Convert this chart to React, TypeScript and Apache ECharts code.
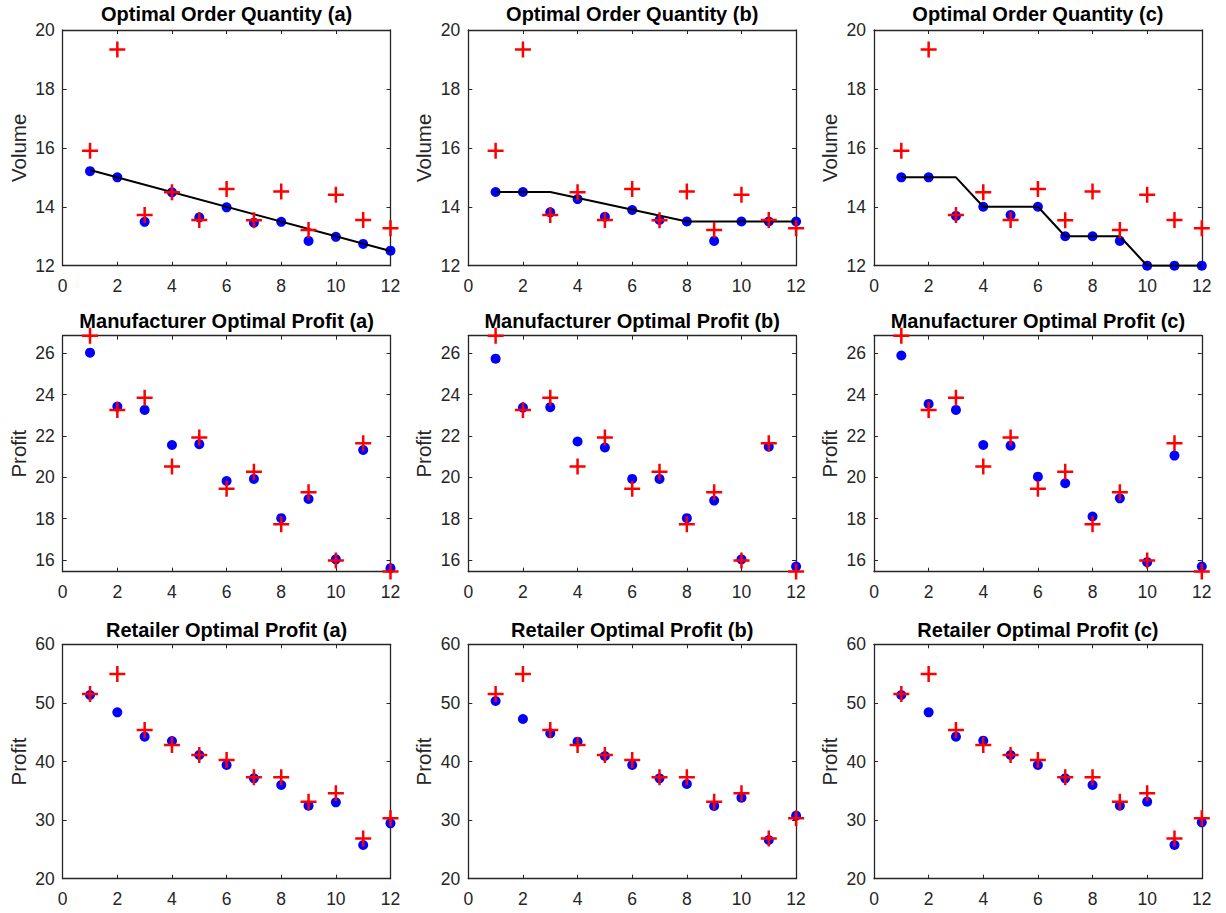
import React, { useEffect, useRef } from "react";
import * as echarts from "echarts";

// ---------- data ----------
const periods = [1, 2, 3, 4, 5, 6, 7, 8, 9, 10, 11, 12];

// Optimal order quantity
const qtyActual = [15.9, 19.34, 13.72, 14.49, 13.55, 14.6, 13.54, 14.52, 13.21, 14.41, 13.55, 13.27];
const qtyA = [15.21, 15.0, 13.49, 14.49, 13.64, 13.98, 13.46, 13.49, 12.84, 12.98, 12.74, 12.51];
const qtyB = [14.5, 14.5, 13.81, 14.26, 13.66, 13.89, 13.55, 13.5, 12.84, 13.5, 13.5, 13.5];
const qtyC = [15.0, 15.0, 13.69, 14.0, 13.72, 14.0, 13.0, 13.0, 12.84, 12.0, 12.0, 12.0];
const fitAx = [1, 12];
const fitAy = [15.25, 12.5];
const fitBx = [1, 3, 8, 12];
const fitBy = [14.5, 14.5, 13.5, 13.5];
const fitCx = [1, 3, 4, 6, 7, 9, 10, 12];
const fitCy = [15, 15, 14, 14, 13, 13, 12, 12];

// Manufacturer optimal profit
const mfgActual = [26.85, 23.26, 23.85, 20.52, 21.92, 19.44, 20.27, 17.73, 19.27, 15.97, 21.65, 15.44];
const mfgA = [26.03, 23.42, 23.26, 21.56, 21.6, 19.82, 19.92, 18.02, 18.95, 16.03, 21.32, 15.6];
const mfgB = [25.74, 23.37, 23.39, 21.73, 21.44, 19.92, 19.92, 18.02, 18.87, 16.03, 21.48, 15.68];
const mfgC = [25.89, 23.55, 23.26, 21.56, 21.53, 20.03, 19.71, 18.1, 18.98, 15.89, 21.05, 15.68];

// Retailer optimal profit
const retActual = [51.52, 54.94, 45.38, 42.82, 41.11, 40.26, 37.3, 37.3, 33.14, 34.57, 26.88, 30.3];
const retA = [51.35, 48.39, 44.24, 43.5, 41.11, 39.4, 37.13, 35.99, 32.46, 33.03, 25.75, 29.45];
const retB = [50.33, 47.25, 44.81, 43.39, 40.94, 39.4, 37.13, 36.16, 32.4, 33.83, 26.6, 30.75];
const retC = [51.35, 48.39, 44.24, 43.56, 41.11, 39.4, 37.13, 35.99, 32.46, 33.14, 25.75, 29.62];

const xTicks = [0, 2, 4, 6, 8, 10, 12];
const qtyTicks = [12, 14, 16, 18, 20];
const mfgTicks = [16, 18, 20, 22, 24, 26];
const retTicks = [20, 30, 40, 50, 60];

const colTitles = ["(a)", "(b)", "(c)"];
const rowTitles = ["Optimal Order Quantity", "Manufacturer Optimal Profit", "Retailer Optimal Profit"];
const rowYNames = ["Volume", "Profit", "Profit"];

// ---------- layout ----------
const colLeft = [62.7, 468.3, 874];
const colWidth = 327.8;
const rowTop = [30, 335.7, 644.3];
const rowHeight = [235.7, 236, 234.4];
const titleY = [13.7, 321.3, 629.7];

const AX = "#262626";
const FONT = '"Liberation Sans", Arial, Helvetica, sans-serif';
const PLUS = "path://M6.75,0 L9.25,0 L9.25,6.75 L16,6.75 L16,9.25 L9.25,9.25 L9.25,16 L6.75,16 L6.75,9.25 L0,9.25 L0,6.75 L6.75,6.75 Z";

const zip = (xs: number[], ys: number[]) => xs.map((x, i) => [x, ys[i]]);

export default function App() {
  const ref = useRef<HTMLDivElement>(null);
  useEffect(() => {
    if (!ref.current) return;
    const chart = echarts.init(ref.current, undefined, { renderer: "svg" });

    const rows = [
      { est: [qtyA, qtyB, qtyC], act: qtyActual, min: 12, max: 20, ticks: qtyTicks,
        fits: [[fitAx, fitAy], [fitBx, fitBy], [fitCx, fitCy]] },
      { est: [mfgA, mfgB, mfgC], act: mfgActual, min: 15.43, max: 26.85, ticks: mfgTicks, fits: null },
      { est: [retA, retB, retC], act: retActual, min: 20, max: 60, ticks: retTicks, fits: null },
    ];

    const grid: any[] = [];
    const xAxis: any[] = [];
    const yAxis: any[] = [];
    const series: any[] = [];
    const graphic: any[] = [];

    rows.forEach((row, r) => {
      for (let c = 0; c < 3; c++) {
        const g = grid.length;
        grid.push({ left: colLeft[c], top: rowTop[r], width: colWidth, height: rowHeight[r], containLabel: false });
        const lineStyle = { color: AX, width: 1.3 };
        xAxis.push({
          type: "value", gridIndex: g, position: "bottom", min: 0, max: 12, interval: 2,
          axisLine: { show: true, onZero: false, lineStyle },
          axisTick: { show: true, inside: true, length: 4, lineStyle: { color: AX, width: 1 } },
          axisLabel: { show: true, color: AX, fontFamily: FONT, fontSize: 17.5, margin: 11, customValues: xTicks },
          splitLine: { show: false },
        });
        xAxis.push({
          type: "value", gridIndex: g, position: "top", min: 0, max: 12, interval: 2,
          axisLine: { show: true, onZero: false, lineStyle },
          axisTick: { show: true, inside: true, length: 4, lineStyle: { color: AX, width: 1 } },
          axisLabel: { show: false },
          splitLine: { show: false },
        });
        yAxis.push({
          type: "value", gridIndex: g, position: "left", min: row.min, max: row.max,
          name: rowYNames[r], nameLocation: "middle", nameRotate: 90, nameGap: 34,
          nameTextStyle: { color: AX, fontFamily: FONT, fontSize: 20.5 },
          axisLine: { show: true, onZero: false, lineStyle },
          axisTick: { show: true, inside: true, length: 4, lineStyle: { color: AX, width: 1 }, customValues: row.ticks },
          axisLabel: { show: true, color: AX, fontFamily: FONT, fontSize: 17.5, margin: 8, customValues: row.ticks },
          splitLine: { show: false },
        });
        yAxis.push({
          type: "value", gridIndex: g, position: "right", min: row.min, max: row.max,
          axisLine: { show: true, onZero: false, lineStyle },
          axisTick: { show: true, inside: true, length: 4, lineStyle: { color: AX, width: 1 }, customValues: row.ticks },
          axisLabel: { show: false },
          splitLine: { show: false },
        });
        const xi = g * 2;
        series.push({
          type: "scatter", xAxisIndex: xi, yAxisIndex: xi, data: zip(periods, row.est[c]),
          symbol: "circle", symbolSize: 10, itemStyle: { color: "#0000FF", opacity: 1 }, z: 2,
        });
        if (row.fits) {
          const f = row.fits[c];
          series.push({
            type: "line", xAxisIndex: xi, yAxisIndex: xi, data: zip(f[0], f[1]),
            showSymbol: false, symbol: "none", lineStyle: { color: "#000000", width: 2 }, z: 3,
          });
        }
        series.push({
          type: "scatter", xAxisIndex: xi, yAxisIndex: xi, data: zip(periods, row.act),
          symbol: PLUS, symbolSize: 16, itemStyle: { color: "#FF0000", opacity: 1 }, z: 4,
        });
        graphic.push({
          type: "text", x: colLeft[c] + colWidth / 2, y: titleY[r],
          style: {
            text: `${rowTitles[r]} ${colTitles[c]}`, fill: "#000000",
            font: `bold 20px ${FONT}`,
            align: "center", verticalAlign: "middle", textAlign: "center", textVerticalAlign: "middle",
          },
        });
      }
    });

    chart.setOption({
      animation: false,
      backgroundColor: "#ffffff",
      grid, xAxis, yAxis, series, graphic,
    });
    return () => chart.dispose();
  }, []);

  return (
    <div
      ref={ref}
      style={{ position: "fixed", left: 0, top: 0, width: 1226, height: 913, background: "#fff" }}
    />
  );
}
